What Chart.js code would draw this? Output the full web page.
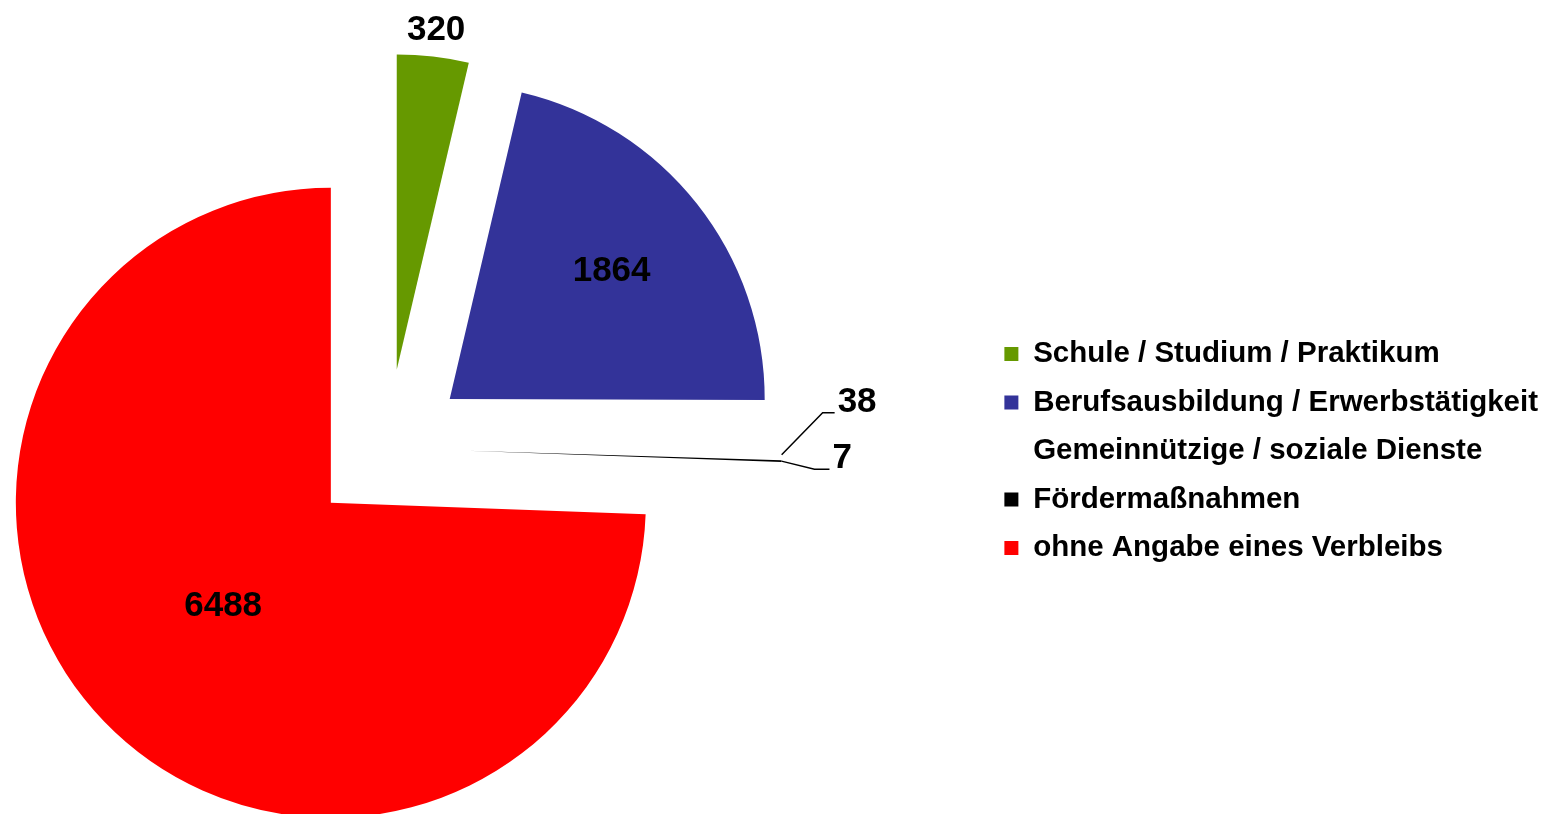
<!DOCTYPE html>
<html>
<head>
<meta charset="utf-8">
<script src="https://cdn.jsdelivr.net/npm/chart.js@4"></script>
<style>
html, body { margin: 0; padding: 0; background: #fff; overflow: hidden; }
/* canvas starts left of the window so the pie sits left of the legend's half */
#wrap { position: absolute; left: -210px; top: 0; width: 1758px; height: 814px; }
</style>
</head>
<body>
<div id="wrap"><canvas id="chartCanvas"></canvas></div>
<script>
const categories = [
	'Schule / Studium / Praktikum',
	'Berufsausbildung / Erwerbstätigkeit',
	'Gemeinnützige / soziale Dienste',
	'Fördermaßnahmen',
	'ohne Angabe eines Verbleibs'
]
const counts = [320, 1864, 38, 7, 6488]
const colors = ['#669900', '#333399', '#ffffff', '#000000', '#ff0000']

const FONT = "'Liberation Sans', Arial, sans-serif"
const EXPLODE = 79

// where each value label goes: fraction of radius, or a leader line [dx, dy, tail]
const labelPlace = [
	{ r: 1.085 },
	{ r: 0.655 },
	{ leader: [41, -42, 12] },
	{ leader: [33, 8, 15] },
	{ r: 0.475 }
]

// pull every slice out along its middle angle (like an exploded Excel pie)
const explodePlugin = {
	id: 'explode',
	afterDatasetsUpdate(chart) {
		chart.getDatasetMeta(0).data.forEach(arc => {
			const mid = (arc.startAngle + arc.endAngle) / 2
			arc.x += Math.cos(mid) * EXPLODE
			arc.y += Math.sin(mid) * EXPLODE
		})
	}
}

const labelPlugin = {
	id: 'sliceLabels',
	afterDatasetsDraw(chart) {
		const ctx = chart.ctx
		const arcs = chart.getDatasetMeta(0).data
		ctx.save()
		ctx.fillStyle = '#000'
		ctx.strokeStyle = '#000'
		ctx.lineWidth = 1.5
		ctx.font = `bold 35px ${FONT}`
		arcs.forEach((arc, i) => {
			const mid = (arc.startAngle + arc.endAngle) / 2
			const r = arc.outerRadius
			const dx = Math.cos(mid)
			const dy = Math.sin(mid)
			const text = String(counts[i])
			const place = labelPlace[i]
			if (place.leader) {
				const [lx, ly, tail] = place.leader
				const x0 = arc.x + dx * r
				const y0 = arc.y + dy * r
				const x1 = x0 + lx
				const y1 = y0 + ly
				ctx.beginPath()
				ctx.moveTo(x0, y0)
				ctx.lineTo(x1, y1)
				ctx.lineTo(x1 + tail, y1)
				ctx.stroke()
				ctx.textAlign = 'left'
				ctx.textBaseline = 'alphabetic'
				ctx.fillText(text, x1 + tail + 3, y1 - 1)
			} else {
				ctx.textAlign = 'center'
				ctx.textBaseline = 'middle'
				ctx.fillText(text, arc.x + dx * r * place.r, arc.y + dy * r * place.r)
			}
		})
		ctx.restore()
	}
}

new Chart(document.getElementById('chartCanvas'), {
	type: 'pie',
	data: {
		labels: categories,
		datasets: [{
			data: counts,
			backgroundColor: colors,
			borderWidth: 0
		}]
	},
	options: {
		responsive: true,
		maintainAspectRatio: false,
		animation: false,
		events: [],
		radius: 315,
		layout: {
			padding: { left: 0, top: 82, right: 0, bottom: 0 }
		},
		plugins: {
			legend: {
				position: 'right',
				title: { display: true, text: '', padding: 0, font: { size: 5 } },
				labels: {
					color: '#000',
					boxWidth: 14,
					boxHeight: 14,
					padding: 19,
					font: { family: FONT, size: 29.5, weight: 'bold' }
				}
			},
			tooltip: { enabled: false }
		}
	},
	plugins: [explodePlugin, labelPlugin]
})
</script>
</body>
</html>
